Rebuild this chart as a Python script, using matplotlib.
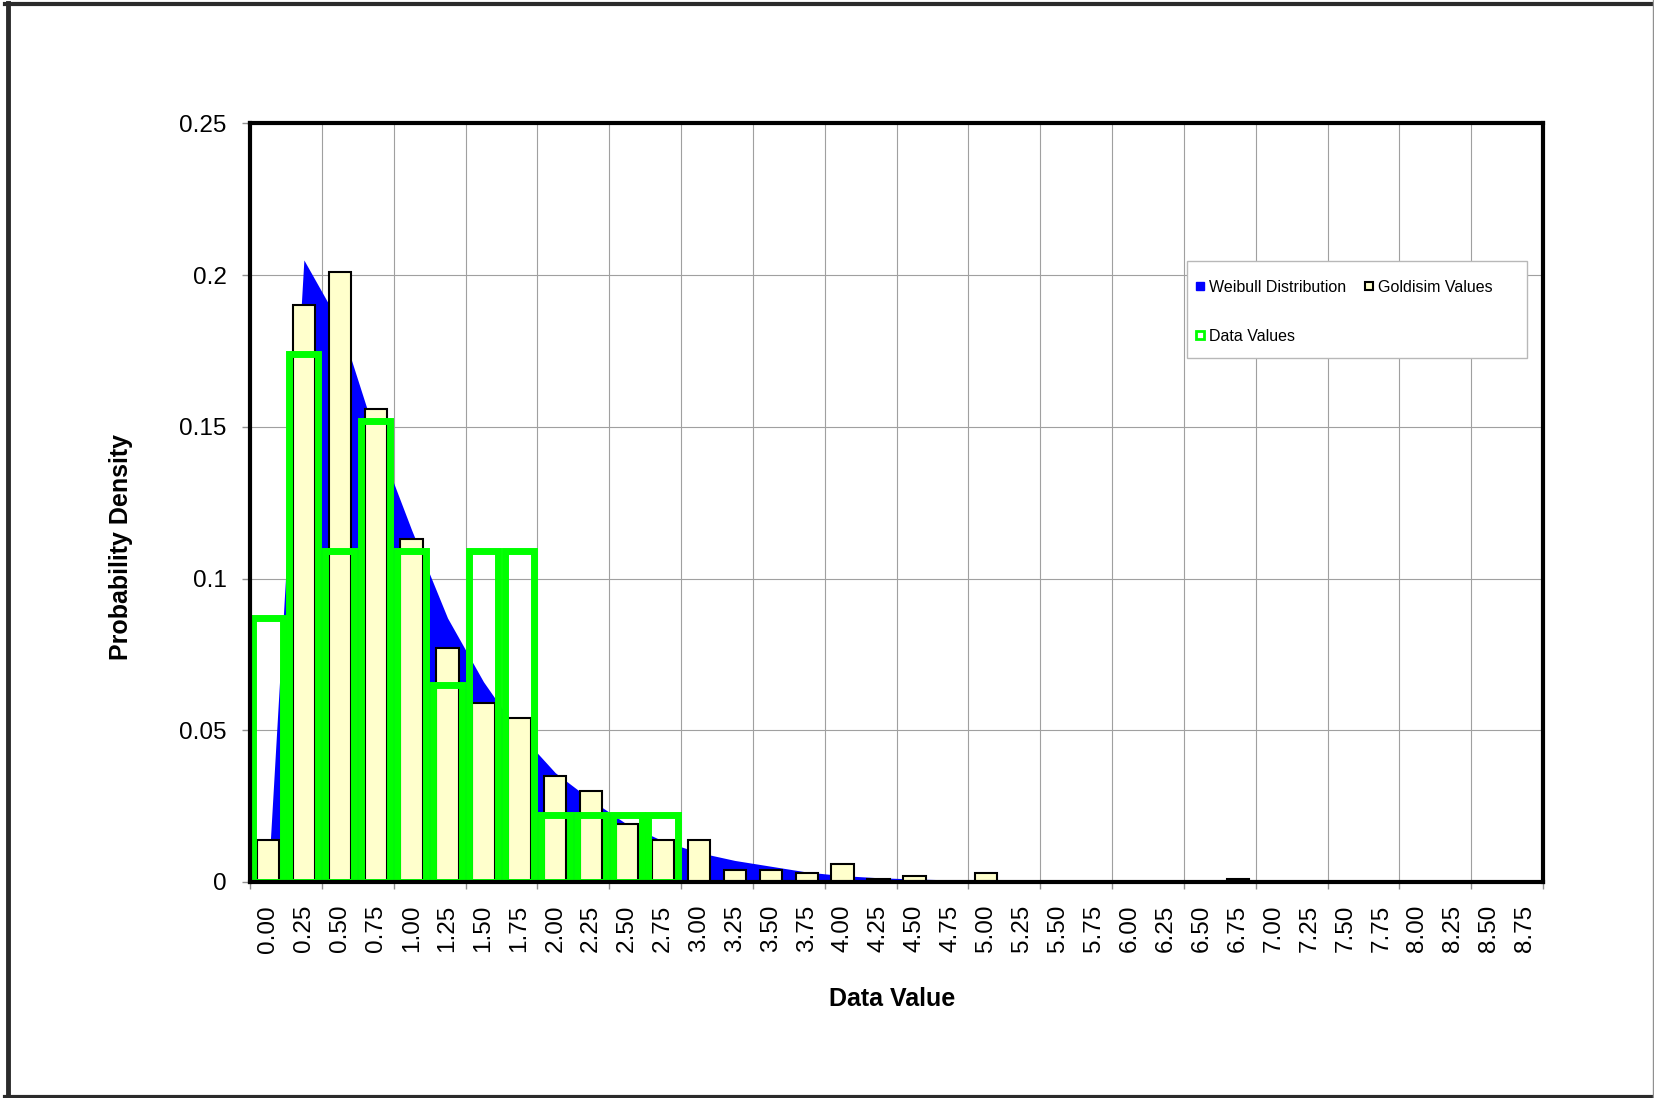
import matplotlib
matplotlib.use("Agg")
import matplotlib.pyplot as plt
from matplotlib.patches import Rectangle
from matplotlib.lines import Line2D
import numpy as np

plt.rcParams['font.family'] = ['Liberation Sans', 'DejaVu Sans']

# category labels (bin starts)
categories = ["0.00", "0.25", "0.50", "0.75", "1.00", "1.25", "1.50", "1.75",
              "2.00", "2.25", "2.50", "2.75", "3.00", "3.25", "3.50", "3.75",
              "4.00", "4.25", "4.50", "4.75", "5.00", "5.25", "5.50", "5.75",
              "6.00", "6.25", "6.50", "6.75", "7.00", "7.25", "7.50", "7.75",
              "8.00", "8.25", "8.50", "8.75"]

goldsim_values = [0.014, 0.190, 0.201, 0.156, 0.113, 0.077, 0.059, 0.054,
                  0.035, 0.030, 0.019, 0.014, 0.014, 0.004, 0.004, 0.003,
                  0.006, 0.001, 0.002, 0.0, 0.003, 0.0, 0.0, 0.0,
                  0.0, 0.0, 0.0, 0.001, 0.0, 0.0, 0.0, 0.0,
                  0.0, 0.0, 0.0, 0.0]

data_values = [0.087, 0.174, 0.109, 0.152, 0.109, 0.065, 0.109, 0.109,
               0.022, 0.022, 0.022, 0.022, 0.0, 0.0, 0.0, 0.0,
               0.0, 0.0, 0.0, 0.0, 0.0, 0.0, 0.0, 0.0,
               0.0, 0.0, 0.0, 0.0, 0.0, 0.0, 0.0, 0.0,
               0.0, 0.0, 0.0, 0.0]

weibull_values = [0.0, 0.205, 0.184, 0.147, 0.116, 0.087, 0.066, 0.049,
                  0.036, 0.027, 0.019, 0.0135, 0.0097, 0.0071, 0.0052, 0.0033,
                  0.0021, 0.0014, 0.0010, 0.0007, 0.0005, 0.0004, 0.0003, 0.0002,
                  0.0002, 0.0002, 0.0001, 0.0001, 0.0001, 0.0001, 0.0001, 0.0001,
                  0.0001, 0.0001, 0.0001, 0.0001]

y_ticks = [0, 0.05, 0.1, 0.15, 0.2, 0.25]
y_tick_labels = ["0", "0.05", "0.1", "0.15", "0.2", "0.25"]

BLUE = '#0000ff'
CREAM = '#ffffcc'
GREEN = '#00ff00'
GRID = '#a0a0a0'
FRAME = '#2b2b2b'

W, H = 1654, 1098
fig = plt.figure(figsize=(W / 100, H / 100), dpi=100)
ax = fig.add_axes([250 / W, 1 - 882 / H, (1543 - 250) / W, (882 - 123.4) / H])

pos = np.arange(len(categories)) + 0.5
gold = np.array(goldsim_values)
data = np.array(data_values)

ax.fill_between(pos, weibull_values, 0, color=BLUE, lw=0, zorder=2)
m = gold > 0
ax.bar(pos[m], gold[m], width=0.62, color=CREAM, edgecolor='black',
       linewidth=1.5, zorder=3)
m = data > 0
ax.bar(pos[m], data[m], width=0.81, facecolor='none', edgecolor=GREEN,
       linewidth=5, zorder=4)

ax.set_xlim(0, len(categories))
ax.set_ylim(0, 0.25)

ax.set_xticks(pos)
ax.set_xticklabels(categories, rotation=90, fontsize=17.5)
ax.set_xticks(np.arange(0, len(categories) + 1, 2), minor=True)
ax.set_yticks(y_ticks)
ax.set_yticklabels(y_tick_labels, fontsize=17.5)

ax.tick_params(axis='x', which='major', length=0, pad=16.5)
ax.tick_params(axis='x', which='minor', length=5, width=1, color='#909090')
ax.tick_params(axis='y', length=6, width=1, color='#909090', pad=11)

ax.grid(True, which='minor', axis='x', color=GRID, lw=0.8, zorder=0)
ax.grid(True, which='major', axis='y', color=GRID, lw=0.8, zorder=0)
ax.set_axisbelow(True)

for s in ax.spines.values():
    s.set_linewidth(3)
    s.set_color('black')
    s.set_zorder(5)

fig.text(121 / W, 1 - 547 / H, "Probability Density", rotation=90,
         fontsize=18, fontweight='bold', ha='center', va='center')
fig.text(892 / W, 1 - 999 / H, "Data Value", fontsize=18,
         fontweight='bold', ha='center', va='center')

# legend box
fig.patches.append(Rectangle((1187 / W, 1 - 358 / H), 340 / W, 97 / H,
                             transform=fig.transFigure, facecolor='white',
                             edgecolor='#b8b8b8', lw=1, zorder=3))
handles = [
    Line2D([], [], ls='none', marker='s', ms=6, mfc=BLUE, mec=BLUE),
    Line2D([], [], ls='none', marker='s', ms=6, mfc='white', mec=GREEN, mew=2),
    Line2D([], [], ls='none', marker='s', ms=6, mfc=CREAM, mec='black', mew=1.5),
]
labels = ["Weibull Distribution", "Data Values", "Goldisim Values"]
leg = fig.legend(handles, labels, loc='upper left',
                 bbox_to_anchor=(1195 / W, 1 - 279.5 / H), ncol=2,
                 frameon=False, fontsize=11.5, handlelength=0.6,
                 handletextpad=0.3, columnspacing=1.1, labelspacing=2.16,
                 borderpad=0, borderaxespad=0)
leg.set_zorder(6)

# outer chart border
fig.add_artist(Line2D([5 / W, 1], [1 - 4 / H, 1 - 4 / H], color=FRAME, lw=3,
                      transform=fig.transFigure))
fig.add_artist(Line2D([7.5 / W, 7.5 / W], [0, 1 - 3 / H], color=FRAME, lw=3.5,
                      transform=fig.transFigure))
fig.add_artist(Line2D([5 / W, 1], [1.5 / H, 1.5 / H], color=FRAME, lw=3,
                      transform=fig.transFigure))
fig.add_artist(Line2D([1652.5 / W, 1652.5 / W], [0, 1], color='#909090', lw=1,
                      transform=fig.transFigure))

fig.savefig("out.png", dpi=100)
